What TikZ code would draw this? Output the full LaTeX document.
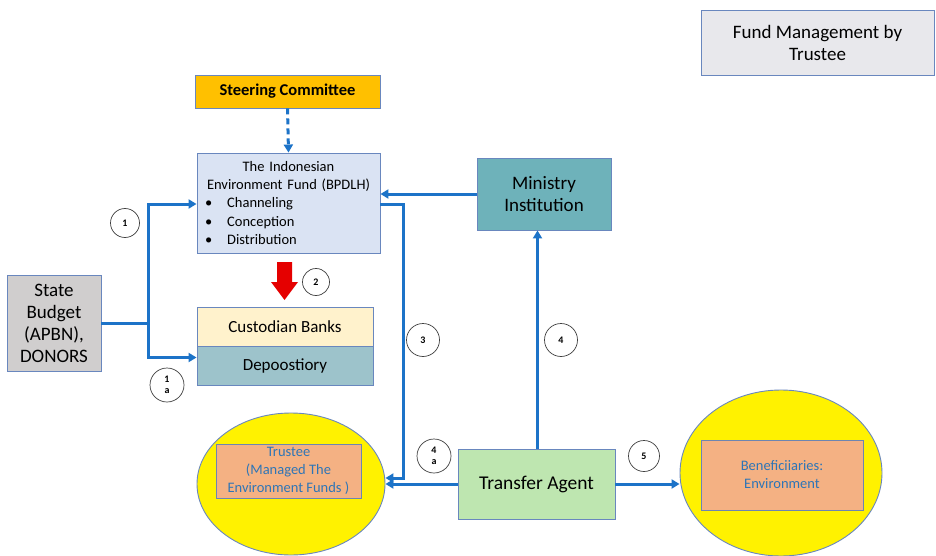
\documentclass[tikz,border=0pt]{standalone}
\usepackage{fontspec}
\setmainfont{Carlito}
\usetikzlibrary{arrows.meta,shapes.geometric}
\definecolor{flow}{RGB}{28,115,200}
\definecolor{edge}{RGB}{105,135,190}
\definecolor{fundfill}{RGB}{232,232,236}
\definecolor{steerfill}{RGB}{255,192,0}
\definecolor{bpfill}{RGB}{218,227,243}
\definecolor{minfill}{RGB}{110,178,186}
\definecolor{statefill}{RGB}{208,206,206}
\definecolor{custfill}{RGB}{255,242,204}
\definecolor{depofill}{RGB}{157,195,203}
\definecolor{innerfill}{RGB}{244,177,131}
\definecolor{bluetext}{RGB}{46,117,182}
\definecolor{transfill}{RGB}{190,230,176}
\tikzset{
  box/.style={draw=edge, line width=0.9pt, rectangle, align=center, inner sep=2pt},
  flowline/.style={draw=flow, line width=3pt, -{Triangle[length=8pt,width=9pt]}},
  circ/.style={draw=black!75, line width=0.7pt, circle, inner sep=0pt, font=\fontsize{10}{11}\selectfont\bfseries, align=center},
  oval/.style={draw=edge, line width=0.9pt, ellipse, fill=yellow},
  inner/.style={draw=edge!80!gray, line width=0.9pt, fill=innerfill, text=bluetext, align=center, font=\fontsize{14.5}{18}\selectfont}
}
\begin{document}
\begin{tikzpicture}[x=1pt,y=-1pt]
\useasboundingbox (0,0) rectangle (936,556);
\fill[white] (0,0) rectangle (936,556);

% nodes
\node[box, fill=fundfill, minimum width=233pt, minimum height=65pt, font=\fontsize{19}{22}\selectfont] (fund) at (817.5,42.5) {Fund Management by\\Trustee};
\node[box, fill=steerfill, minimum width=185pt, minimum height=33pt, font=\fontsize{16.5}{18}\selectfont\bfseries] (steer) at (287.5,91.5) {Steering Committee};
\node[box, fill=bpfill, minimum width=183pt, minimum height=100pt, text width=173pt, inner xsep=5pt, font=\fontsize{14.5}{18.2}\selectfont, align=left] (bpdlh) at (288.5,203)
 {{\centering The Indonesian\\ Environment Fund (BPDLH)\par}
  \hspace*{3pt}•\hspace{15pt}Channeling\\
  \hspace*{3pt}•\hspace{15pt}Conception\\
  \hspace*{3pt}•\hspace{15pt}Distribution};
\node[box, fill=minfill, minimum width=134pt, minimum height=72pt, font=\fontsize{19}{22}\selectfont] (ministry) at (544,194) {Ministry\\Institution};
\node[box, fill=statefill, minimum width=94pt, minimum height=96pt, font=\fontsize{19}{22}\selectfont] (state) at (54,323) {State\\Budget\\(APBN),\\DONORS};
\node[box, fill=custfill, minimum width=176pt, minimum height=39pt, font=\fontsize{17}{19}\selectfont] (cust) at (285,326.5) {Custodian Banks};
\node[box, fill=depofill, minimum width=176pt, minimum height=39pt, font=\fontsize{17}{19}\selectfont] (depo) at (285,365.5) {Depoostiory};

\node[oval, minimum width=188pt, minimum height=142pt] (trustee) at (291,484) {};
\node[inner, minimum width=145pt, minimum height=54pt] (trusteebox) at (288.5,471) {Trustee\\(Managed The\\Environment Funds )};
\node[box, fill=transfill, minimum width=157pt, minimum height=70pt, font=\fontsize{19.5}{22}\selectfont] (transfer) at (536.5,484) {Transfer Agent};
\node[oval, minimum width=202pt, minimum height=166pt] (bene) at (781,473) {};
\node[inner, minimum width=162pt, minimum height=70pt] (benebox) at (782,475) {Beneficiiaries:\\Environment};

% step circles
\node[circ, minimum size=29pt] (c1) at (125,223) {1};
\node[circ, minimum size=34pt] (c1a) at (167,385) {1\\a};
\node[circ, minimum size=27pt] (c2) at (316,282) {2};
\node[circ, minimum size=33pt] (c3) at (423,340) {3};
\node[circ, minimum size=33pt] (c4) at (561,340) {4};
\node[circ, minimum size=34pt] (c4a) at (434,456) {4\\a};
\node[circ, minimum size=31pt] (c5) at (644,456) {5};

% connectors
\coordinate (j1) at (148,323);
\coordinate (k3) at (403,478);
\draw[flowline, dashed, dash pattern=on 6pt off 4pt] (steer.south) -- (bpdlh.north);
\draw[flowline] (state.east) -- (j1) |- ([yshift=-1pt]bpdlh.west);
\draw[flowline] (j1) |- ([yshift=8pt]depo.west);
\draw[flowline] (ministry.west) -- (ministry.west -| bpdlh.east);
\draw[flowline] ([yshift=-1pt]bpdlh.east) -| (k3) -- ([yshift=6pt]trustee.east);
\draw[flowline] (transfer.west) -- (trustee.east);
\draw[flowline] ([xshift=1pt]transfer.north) -- ([xshift=1pt]transfer.north |- ministry.south);
\draw[flowline] (transfer.east) -- (transfer.east -| bene.west);

% red block arrow
\fill[red!90!black] (277,262) -- (292,262) -- (292,282) -- (298,282) -- (284.5,300) -- (271,282) -- (277,282) -- cycle;
\end{tikzpicture}
\end{document}
